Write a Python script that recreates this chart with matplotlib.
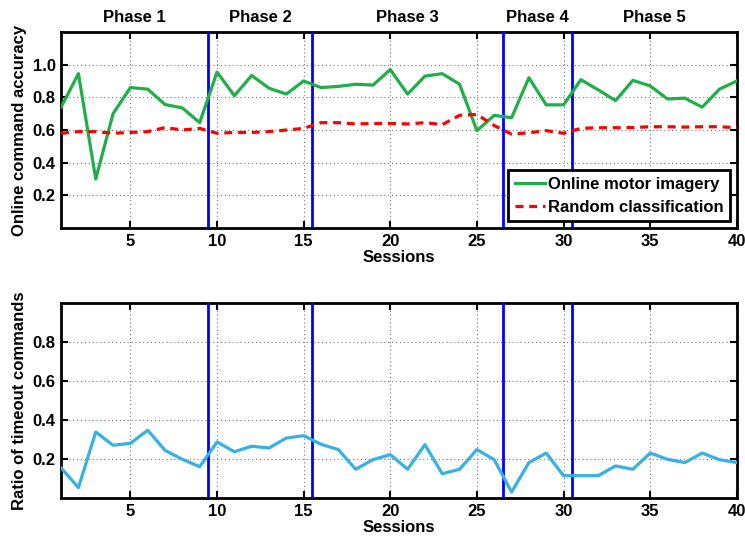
"""Online motor imagery accuracy and timeout ratio across sessions."""

import numpy as np
import matplotlib.pyplot as plt

plt.rcParams["font.family"] = ["Liberation Sans", "DejaVu Sans"]
plt.rcParams["font.weight"] = "bold"

sessions = np.arange(1, 41)

online_acc = [0.74, 0.945, 0.30, 0.70, 0.86, 0.85, 0.756, 0.735, 0.645, 0.955,
              0.81, 0.934, 0.856, 0.82, 0.90, 0.86, 0.867, 0.88, 0.875, 0.97,
              0.82, 0.93, 0.945, 0.88, 0.596, 0.69, 0.675, 0.92, 0.754, 0.754,
              0.908, 0.846, 0.78, 0.904, 0.87, 0.79, 0.795, 0.74, 0.85, 0.90]

random_acc = [0.58, 0.59, 0.59, 0.58, 0.585, 0.59, 0.615, 0.60, 0.61, 0.58,
              0.585, 0.585, 0.59, 0.60, 0.61, 0.645, 0.645, 0.637, 0.64, 0.64,
              0.637, 0.645, 0.633, 0.69, 0.695, 0.627, 0.575, 0.583, 0.596, 0.58,
              0.61, 0.614, 0.614, 0.615, 0.62, 0.62, 0.618, 0.62, 0.62, 0.614]

timeout_ratio = [0.156, 0.055, 0.34, 0.272, 0.282, 0.349, 0.246, 0.20, 0.162, 0.289,
                 0.239, 0.267, 0.258, 0.309, 0.321, 0.277, 0.25, 0.149, 0.198, 0.224,
                 0.149, 0.275, 0.126, 0.149, 0.25, 0.198, 0.032, 0.183, 0.232, 0.116,
                 0.116, 0.116, 0.166, 0.149, 0.232, 0.20, 0.183, 0.232, 0.198, 0.183]

phase_bounds = [9.5, 15.5, 26.5, 30.5]
phase_names = ["Phase 1", "Phase 2", "Phase 3", "Phase 4", "Phase 5"]

GREEN = "#1fae4a"
RED = "#ff0000"
BLUE = "#0000ff"
CYAN = "#36b1e3"
FS = 12

fig = plt.figure(figsize=(7.45, 5.39), dpi=100)
ax1 = fig.add_axes([0.082, 0.577, 0.907, 0.3636])
ax2 = fig.add_axes([0.082, 0.0755, 0.907, 0.3618])


def style_axes(ax, ylim, yticks, ylabel):
    ax.set_xlim(1, 40)
    ax.set_ylim(*ylim)
    ax.set_xticks(range(5, 41, 5))
    ax.set_yticks(yticks)
    ax.set_yticklabels([f"{t:.1f}" for t in yticks])
    ax.tick_params(direction="in", length=5, width=1.5, top=True, right=True,
                   labelsize=FS, pad=4)
    for lbl in ax.get_xticklabels() + ax.get_yticklabels():
        lbl.set_fontweight("bold")
    for sp in ax.spines.values():
        sp.set_linewidth(2)
    ax.grid(True, linestyle=(0, (1, 2.5)), color="#777777", linewidth=0.8)
    ax.set_axisbelow(True)
    ax.set_xlabel("Sessions", fontsize=FS, fontweight="bold", labelpad=1)
    ax.set_ylabel(ylabel, fontsize=FS, fontweight="bold", labelpad=4)
    for b in phase_bounds:
        ax.axvline(b, color=BLUE, linewidth=2, zorder=3)


ax1.plot(sessions, online_acc, color=GREEN, linewidth=2.3, label="Online motor imagery", zorder=4)
ax1.plot(sessions, random_acc, color=RED, linewidth=2.3, linestyle=(0, (2.5, 1.8)),
         label="Random classification", zorder=4)
style_axes(ax1, (0, 1.2), [0.2, 0.4, 0.6, 0.8, 1.0], "Online command accuracy")

edges = [1] + phase_bounds + [40]
for i, name in enumerate(phase_names):
    ax1.text((edges[i] + edges[i + 1]) / 2, 1.245, name, ha="center", va="bottom",
             fontsize=FS, fontweight="bold")

leg = ax1.legend(loc="lower right", fontsize=FS, frameon=True, fancybox=False,
                 framealpha=1, borderaxespad=0.4, handlelength=1.8, borderpad=0.4,
                 labelspacing=0.45, handletextpad=0.2)
leg.get_frame().set_edgecolor("black")
leg.get_frame().set_linewidth(2)
for t in leg.get_texts():
    t.set_fontweight("bold")

ax2.plot(sessions, timeout_ratio, color=CYAN, linewidth=2.3, zorder=4)
style_axes(ax2, (0, 1.0), [0.2, 0.4, 0.6, 0.8], "Ratio of timeout commands")

fig.savefig("out.png", dpi=100)
